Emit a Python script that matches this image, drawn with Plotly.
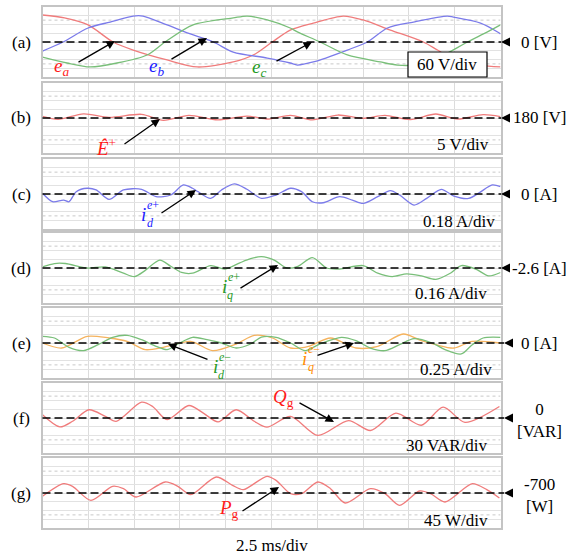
import plotly.graph_objects as go

W, H = 566, 557

# ---------------- waveform data (time in ms) ----------------
# (a) three-phase grid voltages [V]
t_ea = [0.0, 1.2, 2.49, 3.85, 4.95, 6.80, 8.44, 10.41, 11.61, 12.54, 13.52, 14.78, 16.42, 17.51, 18.99, 20.79, 21.56, 22.43, 23.91, 25.0]
ea = [185, 165, 117, 0, -55, -123, -171, -137, -82, 0, 82, 130, 178, 151, 82, 0, -55, -117, -158, -171]

t_eb = [0.0, 1.12, 2.49, 3.69, 4.95, 5.49, 6.80, 7.90, 9.32, 10.41, 12.27, 13.52, 13.91, 14.78, 16.64, 17.73, 18.83, 20.25, 22.10, 22.43, 23.91, 24.84, 25.0]
eb = [-62, 0, 96, 137, 178, 178, 117, 62, 0, -69, -110, -144, -158, -137, -55, 0, 96, 137, 178, 171, 130, 69, 55]

t_ec = [0.0, 1.34, 2.60, 4.07, 5.71, 6.69, 8.22, 10.41, 11.17, 12.27, 13.52, 13.91, 15.16, 16.64, 18.44, 19.37, 20.25, 21.56, 23.20, 24.29, 25.0]
ec = [-103, -144, -171, -144, -89, 0, 117, 165, 178, 151, 96, 69, 0, -89, -137, -158, -158, -110, 0, 69, 117]

# (b) positive-sequence voltage magnitude [V]
t_E = [0.0, 0.85, 2.24, 3.63, 5.41, 6.60, 7.99, 9.57, 11.16, 12.35, 13.54, 14.73, 16.12, 17.50, 18.69, 20.08, 21.47, 22.66, 24.05, 25.0]
E_pos = [180.9, 179.2, 182.4, 180.4, 182.1, 178.7, 181.5, 178.9, 181.1, 179.4, 181.5, 178.9, 181.7, 179.8, 181.5, 179.1, 182.3, 179.4, 181.9, 180.8]

# (c) positive-sequence d-axis current [A]
t_id = [0.0, 0.55, 1.15, 1.45, 1.84, 2.44, 2.93, 3.63, 4.42, 5.41, 6.20, 7.00, 7.69, 8.19, 8.49, 9.18, 9.77, 10.47, 11.16, 11.95, 12.75, 13.54, 14.14, 14.73, 15.32, 16.22, 16.91, 17.50, 18.30, 18.99, 19.49, 20.28, 20.97, 21.77, 22.46, 23.26, 23.85, 24.55, 25.0]
id_pos = [0.014, -0.159, -0.125, -0.159, 0.048, 0.118, 0.083, -0.111, 0.083, 0.097, -0.055, -0.021, 0.187, 0.118, 0.048, -0.090, 0.083, 0.208, 0.097, -0.090, -0.021, 0.118, 0.048, -0.159, -0.180, -0.055, -0.125, -0.194, -0.055, 0.069, -0.021, -0.228, -0.090, 0.097, -0.042, -0.090, 0.028, 0.187, 0.152]

# (d) positive-sequence q-axis current [A]
t_iq = [0.0, 0.65, 1.25, 2.44, 3.43, 4.42, 5.02, 5.61, 6.40, 7.00, 7.59, 8.19, 9.18, 9.97, 10.77, 11.36, 11.95, 12.65, 13.34, 13.94, 14.73, 15.52, 16.22, 17.50, 18.30, 19.09, 19.88, 20.68, 21.47, 22.26, 22.86, 23.65, 24.35, 25.0]
iq_pos = [-2.581, -2.518, -2.518, -2.600, -2.581, -2.695, -2.758, -2.644, -2.455, -2.569, -2.682, -2.695, -2.556, -2.619, -2.506, -2.430, -2.392, -2.455, -2.600, -2.569, -2.411, -2.600, -2.619, -2.556, -2.695, -2.758, -2.707, -2.745, -2.808, -2.695, -2.556, -2.619, -2.745, -2.682]

# (e) negative-sequence d/q currents [A]
t_idn = [0.0, 0.65, 1.45, 2.24, 3.04, 3.83, 4.62, 5.41, 6.20, 6.80, 7.39, 8.19, 8.98, 9.77, 10.57, 11.36, 11.95, 12.75, 13.54, 14.34, 15.13, 16.32, 17.11, 17.90, 18.69, 19.49, 20.28, 21.27, 21.97, 22.86, 23.46, 24.05, 25.0]
id_neg = [0.190, 0.143, -0.124, -0.219, -0.048, 0.162, 0.219, 0.095, -0.095, -0.190, -0.029, 0.162, 0.095, 0.0, -0.143, -0.029, 0.171, 0.162, 0.0, -0.219, -0.029, 0.162, 0.067, -0.143, -0.219, -0.048, 0.124, 0.0, -0.190, -0.314, -0.048, 0.143, 0.162]

t_iqn = [0.0, 1.05, 2.44, 3.63, 4.62, 5.61, 6.60, 8.09, 9.28, 10.57, 11.56, 12.55, 13.54, 14.53, 15.72, 17.11, 18.30, 19.69, 20.68, 21.47, 22.46, 23.46, 25.0]
iq_neg = [0.0, -0.143, 0.190, 0.143, 0.048, -0.190, -0.124, 0.048, -0.219, -0.029, 0.219, 0.143, -0.143, -0.095, 0.143, -0.143, -0.095, 0.257, 0.067, -0.048, -0.143, 0.048, 0.0]

# (f) grid reactive power [VAR]
t_Q = [0.0, 0.95, 1.64, 2.54, 3.43, 4.02, 5.41, 6.01, 6.80, 7.99, 8.78, 9.58, 10.57, 11.56, 12.25, 13.54, 15.03, 16.71, 17.90, 19.29, 20.68, 21.87, 23.06, 24.94]
Qg = [11.3, -30.5, -11.3, 28.2, 5.6, -11.3, 54.1, 39.5, -5.6, 42.9, 16.9, -13.5, 28.2, -11.3, -31.6, 5.6, -59.8, -9.0, -42.9, 16.9, -24.8, 37.2, -14.7, 39.5]

# (g) grid active power [W]
t_P = [0.0, 1.15, 1.64, 2.64, 3.83, 4.42, 5.11, 6.70, 7.39, 8.09, 9.48, 10.37, 10.96, 12.25, 12.75, 13.54, 14.14, 15.03, 15.72, 16.52, 17.90, 18.70, 19.49, 20.58, 21.18, 21.97, 23.46, 24.25, 24.94]
Pg = [-717.1, -652.0, -665.7, -737.7, -665.7, -677.7, -720.6, -643.4, -665.7, -708.6, -617.7, -660.6, -682.9, -614.3, -634.9, -703.4, -703.4, -643.4, -677.7, -751.4, -677.7, -703.4, -763.4, -689.7, -703.4, -746.3, -652.0, -682.9, -725.7]

# ---------------- panel definitions ----------------
panel_tags = ["(a)", "(b)", "(c)", "(d)", "(e)", "(f)", "(g)"]
ref_levels = [0, 180, 0, -2.6, 0, 0, -700]
per_div = [60, 5, 0.18, 0.16, 0.25, 30, 45]
ref_labels = ["0 [V]", "180 [V]", "0 [A]", "-2.6 [A]", "0 [A]", "0<br>[VAR]", "-700<br>[W]"]
scale_labels = ["60 V/div", "5 V/div", "0.18 A/div", "0.16 A/div", "0.25 A/div", "30 VAR/div", "45 W/div"]
time_label = "2.5 ms/div"
ms_per_div = 2.5

RED, BLUE, GREEN, ORANGE = "#f07c7c", "#7b7bea", "#79bf79", "#f5b35e"

series = [
    [(t_ea, ea, RED), (t_eb, eb, BLUE), (t_ec, ec, GREEN)],
    [(t_E, E_pos, RED)],
    [(t_id, id_pos, BLUE)],
    [(t_iq, iq_pos, GREEN)],
    [(t_iqn, iq_neg, ORANGE), (t_idn, id_neg, GREEN)],
    [(t_Q, Qg, RED)],
    [(t_P, Pg, RED)],
]

# page geometry (pixels)
X_LEFT, X_RIGHT = 42.5, 500.5
TOPS = [7, 83, 159, 233, 308, 383, 458]
PANEL_H = 70
FONT = "Liberation Serif"


def px(x):
    return x / W


def py(y):
    return 1 - y / H


fig = go.Figure()
shapes = []
annotations = []


def text_at(text, x, y, color="black", size=17, xanchor="center"):
    annotations.append(dict(text=text, x=px(x), y=py(y), xref="paper", yref="paper",
                            xanchor=xanchor, yanchor="middle", showarrow=False,
                            font=dict(family=FONT, size=size, color=color)))


for i in range(7):
    n = "" if i == 0 else str(i + 1)
    c, d = ref_levels[i], per_div[i]
    top = TOPS[i]
    xa = dict(domain=[px(X_LEFT), px(X_RIGHT)], range=[0, 10 * ms_per_div],
              dtick=ms_per_div, tick0=0, showgrid=True, gridcolor="#dcdcdc", gridwidth=1,
              showticklabels=False, ticks="", zeroline=False, showline=True, mirror=True,
              linecolor="#c4c4c4", linewidth=1.5, anchor="y" + n, fixedrange=True)
    ya = dict(domain=[py(top + PANEL_H), py(top)], range=[c - 4 * d, c + 4 * d],
              dtick=d, tick0=c, showgrid=True, gridcolor="#e2e2e2", gridwidth=1,
              showticklabels=False, ticks="", zeroline=False, showline=True, mirror=True,
              linecolor="#c4c4c4", linewidth=1.5, anchor="x" + n, fixedrange=True)
    fig.layout["xaxis" + n] = xa
    fig.layout["yaxis" + n] = ya

    xr, yr = "x" + n, "y" + n
    # dotted graticule rows
    for k in (-2.5, 2.5):
        shapes.append(dict(type="line", xref=xr, yref=yr, x0=0, x1=25, y0=c + k * d, y1=c + k * d,
                           line=dict(color="#c8c8c8", width=1, dash="dot"), layer="below"))
    # centre time line
    shapes.append(dict(type="line", xref=xr, yref=yr, x0=12.5, x1=12.5, y0=c - 4 * d, y1=c + 4 * d,
                       line=dict(color="#a8a8a8", width=1), layer="below"))

    for t, v, col in series[i]:
        fig.add_trace(go.Scatter(x=t, y=v, mode="lines", xaxis=xr, yaxis=yr,
                                 line=dict(color=col, width=1.3, shape="spline", smoothing=0.8),
                                 hoverinfo="skip", showlegend=False))

    # reference level: dashed line + marker triangle
    yc = top + PANEL_H / 2
    tip = 501 if i < 4 else 504
    shapes.append(dict(type="line", xref="paper", yref="paper", x0=px(X_LEFT), x1=px(tip),
                       y0=py(yc), y1=py(yc), line=dict(color="black", width=1.6, dash="8px,4px")))
    shapes.append(dict(type="path", xref="paper", yref="paper",
                       path=f"M {px(tip)},{py(yc)} L {px(tip + 9)},{py(yc - 4.5)} L {px(tip + 9)},{py(yc + 4.5)} Z",
                       fillcolor="black", line=dict(color="black", width=0)))

    text_at(panel_tags[i], 21, yc)
    two_line = "<br>" in ref_labels[i]
    text_at(ref_labels[i], 539, yc + (2 if two_line else 0))

# per-division scale labels
scale_pos = [(447, 64), (491, 145), (497, 221), (489, 293), (494, 369), (490, 445), (490, 520)]
for i, (sx, sy) in enumerate(scale_pos):
    if i == 0:
        shapes.append(dict(type="rect", xref="paper", yref="paper", x0=px(408), x1=px(487),
                           y0=py(77), y1=py(52), fillcolor="white", line=dict(color="black", width=1.2)))
        text_at(scale_labels[i], sx, sy)
    else:
        text_at(scale_labels[i], sx, sy, xanchor="right")

text_at(time_label, 272, 545)


def arrow(x0, y0, x1, y1):
    annotations.append(dict(text="", x=px(x1), y=py(y1), xref="paper", yref="paper",
                            ax=x0 - x1, ay=y0 - y1, showarrow=True, arrowhead=2, arrowsize=1.3,
                            arrowwidth=1.3, arrowcolor="black"))


# signal names
text_at("<i>e</i><sub><i>a</i></sub>", 61, 67, "#ff1a1a", 19)
text_at("<i>e</i><sub><i>b</i></sub>", 156, 67, "#1a1aff", 19)
text_at("<i>e</i><sub><i>c</i></sub>", 259, 68, "#1f9a1f", 19)
arrow(77, 63, 115, 41)
arrow(170, 60, 207, 38)
arrow(275, 62, 312, 42)

text_at("<i>Ê</i><sup>+</sup>", 106, 147, "#ff1a1a", 19)
arrow(123, 145, 160, 119)

text_at("<i>i</i>", 143, 214, "#1a1aff", 19)
text_at("<i>e</i>+", 153, 205, "#1a1aff", 12)
text_at("<i>d</i>", 150, 223, "#1a1aff", 12)
arrow(160, 214, 196, 190)

text_at("<i>i</i>", 224, 286, "#1f9a1f", 19)
text_at("<i>e</i>+", 234, 277, "#1f9a1f", 12)
text_at("<i>q</i>", 230, 295, "#1f9a1f", 12)
arrow(239, 289, 278, 265)

text_at("<i>i</i>", 215, 366, "#1f9a1f", 19)
text_at("<i>e</i>−", 225, 357, "#1f9a1f", 12)
text_at("<i>d</i>", 221, 375, "#1f9a1f", 12)
arrow(209, 360, 168, 344)

text_at("<i>i</i>", 304, 358, "#ff8c00", 19)
text_at("<i>e</i>−", 314, 349, "#ff8c00", 12)
text_at("<i>q</i>", 311, 367, "#ff8c00", 12)
arrow(316, 356, 354, 343)

text_at("<i>Q</i><sub>g</sub>", 283, 398, "#ff1a1a", 19)
arrow(298, 402, 334, 422)

text_at("<i>P</i><sub>g</sub>", 229, 509, "#ff1a1a", 19)
arrow(241, 512, 279, 487)

fig.update_layout(width=W, height=H, margin=dict(l=0, r=0, t=0, b=0),
                  paper_bgcolor="white", plot_bgcolor="white",
                  shapes=shapes, annotations=annotations, showlegend=False)

fig.write_html("out.html")
